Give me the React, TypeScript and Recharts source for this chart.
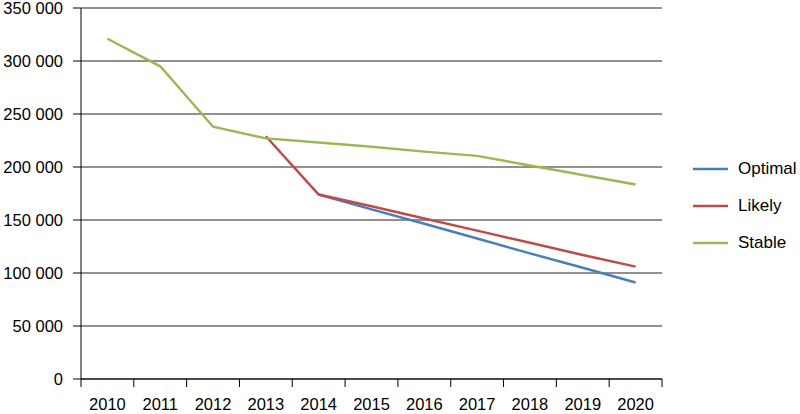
import { ComposedChart, Line, XAxis, YAxis, CartesianGrid, Legend } from "recharts"

const years = ["2010", "2011", "2012", "2013", "2014", "2015", "2016", "2017", "2018", "2019", "2020"]
const optimal = [null, null, null, null, 174000, 160000, 146500, 132500, 118500, 105000, 91000]
const likely = [null, null, null, 229000, 174000, 163000, 151500, 140000, 128500, 117000, 106000]
const stable = [321000, 295000, 238000, 227000, 223000, 219000, 214500, 210500, 201500, 192500, 183500]
const yTicks = [0, 50000, 100000, 150000, 200000, 250000, 300000, 350000]

const series = [
    { key: "optimal", name: "Optimal", color: "#4a7ebb" },
    { key: "likely", name: "Likely", color: "#be4b48" },
    { key: "stable", name: "Stable", color: "#98b954" },
]

const data = years.map((year, i) => ({
    year,
    optimal: optimal[i],
    likely: likely[i],
    stable: stable[i],
}))

const font = "'Liberation Sans', Arial, Helvetica, sans-serif"

const formatNumber = (v: number) => String(v).replace(/\B(?=(\d{3})+(?!\d))/g, " ")

// year label plus tick marks on the band edges (Excel style)
function YearTick(props: any) {
    const { x, y, width, payload, index } = props
    const band = (width || 581) / years.length
    const left = x - band / 2
    return (
        <g>
            <line x1={left} y1={y} x2={left} y2={y + 8} stroke="#000" />
            {index === years.length - 1 && (
                <line x1={x + band / 2} y1={y} x2={x + band / 2} y2={y + 8} stroke="#000" />
            )}
            <text x={x} y={y + 31} textAnchor="middle" fontSize={16.5} fontFamily={font} fill="#000">
                {payload.value}
            </text>
        </g>
    )
}

function LegendBox() {
    return (
        <div style={{ fontFamily: font, fontSize: 17, color: "#000" }}>
            {series.map((s) => (
                <div key={s.key} style={{ height: 37, display: "flex", alignItems: "center" }}>
                    <svg width={35} height={4} style={{ marginRight: 10 }}>
                        <line x1={0} y1={2} x2={35} y2={2} stroke={s.color} strokeWidth={2.5} />
                    </svg>
                    <span>{s.name}</span>
                </div>
            ))}
        </div>
    )
}

export default function App() {
    return (
        <div style={{ position: "absolute", left: 0, top: 0, width: 800, height: 414, background: "#fff" }}>
            <ComposedChart width={800} height={414} data={data} margin={{ top: 8, right: 138, left: 0, bottom: 0 }}>
                <CartesianGrid vertical={false} stroke="#222" />
                <XAxis
                    dataKey="year"
                    height={35}
                    scale="band"
                    interval={0}
                    tickSize={0}
                    tickMargin={0}
                    tickLine={false}
                    axisLine={{ stroke: "#000" }}
                    tick={<YearTick />}
                />
                <YAxis
                    width={81}
                    domain={[0, 350000]}
                    ticks={yTicks}
                    interval={0}
                    tickSize={8}
                    tickMargin={10}
                    tickLine={{ stroke: "#000" }}
                    axisLine={{ stroke: "#000" }}
                    tickFormatter={formatNumber}
                    tick={{ fill: "#000", fontSize: 16.5, fontFamily: font }}
                />
                <Legend
                    layout="horizontal"
                    verticalAlign="middle"
                    align="center"
                    wrapperStyle={{ left: 693, top: 150, width: 110 }}
                    content={() => <LegendBox />}
                />
                {series.map((s) => (
                    <Line
                        key={s.key}
                        dataKey={s.key}
                        name={s.name}
                        type="linear"
                        stroke={s.color}
                        strokeWidth={2.5}
                        dot={false}
                        activeDot={false}
                        isAnimationActive={false}
                    />
                ))}
            </ComposedChart>
        </div>
    )
}
